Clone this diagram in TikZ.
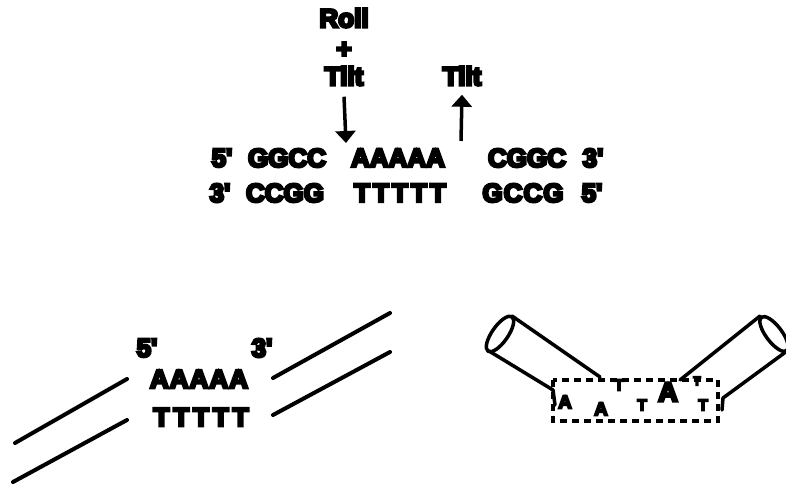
\documentclass[tikz,border=0pt]{standalone}
\usepackage{fontspec}
\usetikzlibrary{arrows.meta}
\newfontfamily\heavy{Liberation Sans Bold}[FakeBold=10]
\begin{document}
\begin{tikzpicture}[x=1pt,y=-1pt,
  lbl/.style={font=\heavy\fontsize{26}{26}\selectfont, inner sep=0pt},
  wide/.style={font=\heavy\fontsize{26}{26}\selectfont\addfontfeature{LetterSpace=#1}, inner sep=0pt},
  base/.style={font=\heavy\fontsize{#1}{#1}\selectfont, inner sep=0pt},
  strand/.style={line width=4pt, line cap=round},
  tube/.style={line width=3.5pt, line cap=round, line join=round},
  ptr/.style={line width=3.5pt, -{Triangle[width=20pt,length=12pt]}}]
\path[use as bounding box, fill=white] (0,0) rectangle (786,486);

% labels of the two motions
\node[lbl] (roll)  at (344,18) {Roll};
\node[lbl] (plus)  at (344,50) {+};
\node[lbl] (tiltA) at (344,76) {Tilt};
\node[lbl] (tiltB) at (462,76) {Tilt};

% duplex sequence
\node[lbl]     (t5)   at (222,158) {5'};
\node[lbl]     (tG)   at (287,158) {GGCC};
\node[lbl]     (tA)   at (398,158) {AAAAA};
\node[lbl]     (tC)   at (527,158) {CGGC};
\node[lbl]     (t3)   at (593,158) {3'};
\node[lbl]     (b3)   at (220,193) {3'};
\node[lbl]     (bC)   at (285,193) {CCGG};
\node[wide=12] (bT)   at (400,193) {TTTTT};
\node[wide=4]  (bG)   at (523,193) {GCCG};
\node[lbl]     (b5)   at (592,193) {5'};

% junction arrows
\coordinate (nickL) at (346,143);
\coordinate (nickR) at (461,141);
\draw[ptr] ([yshift=-11pt]tiltA.south) -- (nickL);
\draw[ptr] (nickR) -- ([yshift=-9pt]tiltB.south);

% left: open duplex with A-tract
\node[lbl]     (l5) at (147,348) {5'};
\node[lbl]     (l3) at (262,348) {3'};
\node[wide=4]  (lA) at (199,379) {AAAAA};
\node[wide=15] (lT) at (201,417) {TTTTT};
\draw[strand] (15,443) -- (127,379);
\draw[strand] (13,482) -- (127,420);
\draw[strand] (273,378) -- (390,313);
\draw[strand] (273,415) -- (390,352);

% right: bent duplex drawn as two cylinders
\draw[tube, shift={(500,334)}, rotate=-35] (0,0) ellipse (8pt and 21pt);
\draw[tube] (512,316) -- (600,377);
\draw[tube] (489,351) -- (553,390) -- (555,405);
\draw[tube, shift={(774,334)}, rotate=37] (0,0) ellipse (8pt and 21pt);
\draw[tube] (760,316) -- (680,380);
\draw[tube] (787,351) -- (723,398) -- (722,410);
\draw[line width=3.5pt, dash pattern=on 7pt off 5pt] (553,380) rectangle (718,421);
\node[base=19] (r1) at (565,402) {A};
\node[base=19] (r2) at (601,409) {A};
\node[base=16] (r3) at (619,385) {T};
\node[base=16] (r4) at (642,405) {T};
\node[base=27] (r5) at (668,392) {A};
\node[base=16] (r6) at (703,405) {T};
\node[base=13] (r7) at (697,381) {T};
\end{tikzpicture}
\end{document}
